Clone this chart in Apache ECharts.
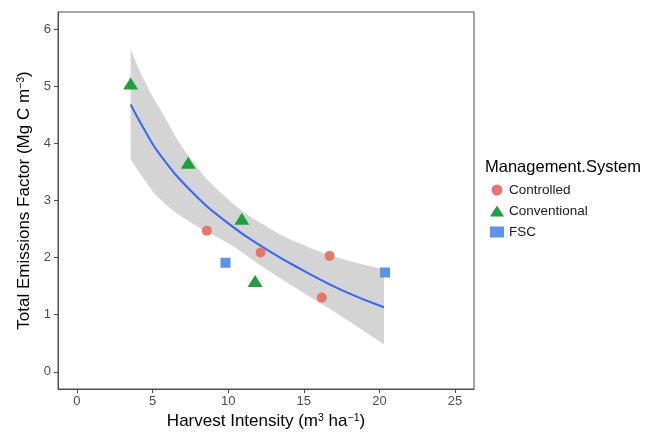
<!DOCTYPE html>
<html>
<head>
<meta charset="utf-8">
<script src="https://cdn.jsdelivr.net/npm/echarts@6/dist/echarts.min.js"></script>
<style>
  html, body { margin: 0; padding: 0; background: #fff; }
  #chart { width: 646px; height: 437px; }
</style>
</head>
<body>
<div id="chart"></div>
<script>
// axis ticks
const xTicks = [0, 5, 10, 15, 20, 25]
const yTicks = [0, 1, 2, 3, 4, 5, 6]

// observations by management system
const controlledX = [8.59, 12.14, 16.7, 16.19]
const controlledY = [2.47, 2.09, 2.03, 1.30]
const conventionalX = [3.55, 7.36, 10.9, 11.78]
const conventionalY = [5.05, 3.66, 2.68, 1.59]
const fscX = [9.82, 20.37]
const fscY = [1.91, 1.74]

// fitted curve and its confidence band
const fitX = [3.55, 4.5, 5.5, 7.5, 10, 12.5, 15, 17.5, 20.3]
const fitY = [4.68, 4.22, 3.8, 3.18, 2.6, 2.15, 1.77, 1.43, 1.13]
const bandUpper = [5.65, 5.08, 4.6, 3.74, 3.02, 2.55, 2.22, 1.98, 1.80]
const bandLower = [3.72, 3.35, 3.02, 2.62, 2.25, 1.80, 1.38, 0.97, 0.48]

const pairs = (xs, ys) => xs.map((x, i) => [x, ys[i]])
// value first so the stack sums y, not x
const stackPairs = (xs, ys) => xs.map((x, i) => [ys[i], x])
const bandWidth = bandUpper.map((u, i) => +(u - bandLower[i]).toFixed(3))

const FONT = '"Liberation Sans", Arial, sans-serif'
const GREY = '#4d4d4d'

const chart = echarts.init(document.getElementById('chart'))

// superscript style for the axis titles
const supStyle = { fontSize: 10.5, verticalAlign: 'top', fontFamily: FONT, color: '#000' }

const option = {
  animation: false,
  textStyle: { fontFamily: FONT },
  title: {
    text: 'Management.System',
    left: 485,
    top: 159,
    padding: 0,
    textStyle: { fontSize: 16.5, fontWeight: 'normal', color: '#000', fontFamily: FONT }
  },
  legend: {
    data: ['Controlled', 'Conventional', 'FSC'],
    orient: 'vertical',
    left: 490,
    top: 183,
    padding: 0,
    itemWidth: 14,
    itemHeight: 11,
    itemGap: 7,
    textStyle: { fontSize: 13.5, color: '#1a1a1a', fontFamily: FONT }
  },
  grid: {
    left: 58,
    right: 172,
    top: 12,
    bottom: 48,
    show: true,
    borderColor: GREY,
    borderWidth: 1
  },
  xAxis: {
    type: 'value',
    min: -1.25,
    max: 26.25,
    name: 'Harvest Intensity (m{sup|3} ha{sup|−1})',
    nameLocation: 'middle',
    nameGap: 23,
    nameTextStyle: { fontSize: 17, color: '#000', fontFamily: FONT, rich: { sup: supStyle } },
    axisLine: { show: true, onZero: false, lineStyle: { color: GREY } },
    axisTick: { show: true, length: 4, customValues: xTicks, lineStyle: { color: GREY } },
    axisLabel: { customValues: xTicks, color: GREY, fontSize: 13, margin: 6 },
    splitLine: { show: false }
  },
  yAxis: {
    type: 'value',
    min: -0.3,
    max: 6.3,
    name: 'Total Emissions Factor (Mg C m{sup|−3})',
    nameLocation: 'middle',
    nameRotate: 90,
    nameGap: 24,
    nameTextStyle: { fontSize: 17, color: '#000', fontFamily: FONT, rich: { sup: supStyle } },
    axisLine: { show: true, onZero: false, lineStyle: { color: GREY } },
    axisTick: { show: true, length: 4, customValues: yTicks, lineStyle: { color: GREY } },
    axisLabel: { customValues: yTicks, color: GREY, fontSize: 13, margin: 7 },
    splitLine: { show: false }
  },
  series: [
    // grey confidence band: invisible lower bound + stacked width
    {
      name: 'bandLower',
      type: 'line',
      stack: 'ci',
      encode: { x: 1, y: 0 },
      smooth: true,
      symbol: 'none',
      silent: true,
      lineStyle: { opacity: 0 },
      data: stackPairs(fitX, bandLower)
    },
    {
      name: 'band',
      type: 'line',
      stack: 'ci',
      encode: { x: 1, y: 0 },
      smooth: true,
      symbol: 'none',
      silent: true,
      lineStyle: { opacity: 0 },
      areaStyle: { color: '#d4d4d4', opacity: 1 },
      data: stackPairs(fitX, bandWidth)
    },
    {
      name: 'fit',
      type: 'line',
      z: 3,
      smooth: true,
      symbol: 'none',
      silent: true,
      lineStyle: { color: '#3366ff', width: 2 },
      data: pairs(fitX, fitY)
    },
    {
      name: 'Controlled',
      type: 'scatter',
      symbol: 'circle',
      symbolSize: 10,
      z: 5,
      itemStyle: { color: '#e8756b', opacity: 1 },
      data: pairs(controlledX, controlledY)
    },
    {
      name: 'Conventional',
      type: 'scatter',
      symbol: 'triangle',
      symbolSize: [15, 12],
      z: 5,
      itemStyle: { color: '#1aa33b', opacity: 1 },
      data: pairs(conventionalX, conventionalY)
    },
    {
      name: 'FSC',
      type: 'scatter',
      symbol: 'rect',
      symbolSize: 10,
      z: 5,
      itemStyle: { color: '#5c93ec', opacity: 1 },
      data: pairs(fscX, fscY)
    }
  ]
}

chart.setOption(option)
</script>
</body>
</html>
